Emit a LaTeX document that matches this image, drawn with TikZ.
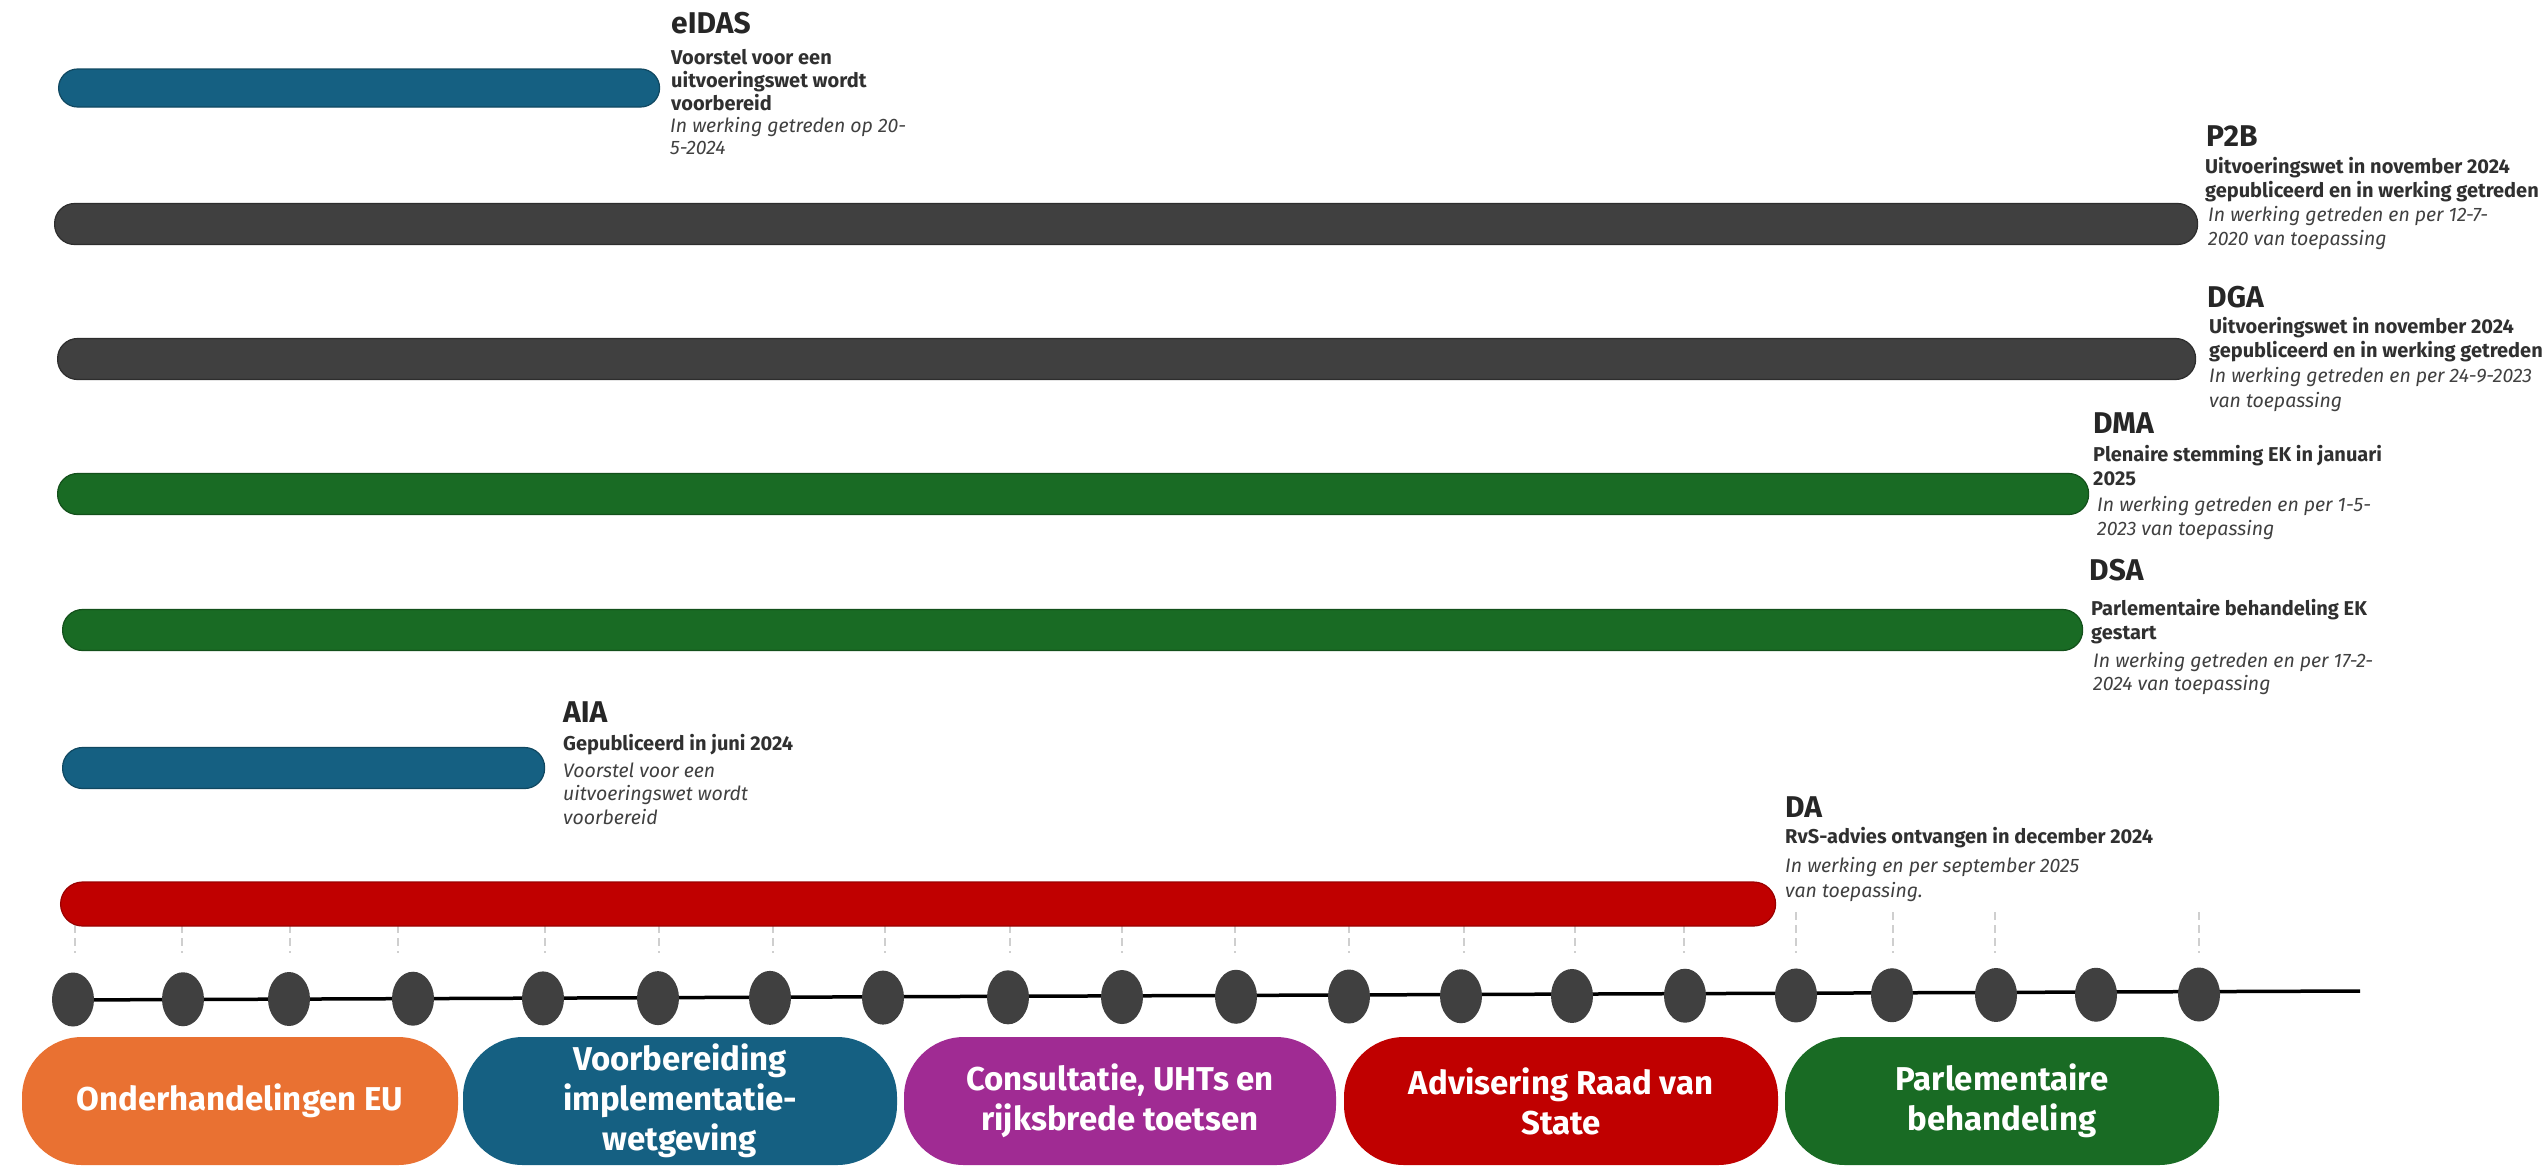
\documentclass[tikz,border=0pt]{standalone}
\usepackage{fontspec}
\setmainfont{Fira Sans}
\usetikzlibrary{shapes.geometric}
\definecolor{cOrange}{HTML}{E97132}
\definecolor{cBlue}{HTML}{156082}
\definecolor{cPurple}{HTML}{A02B93}
\definecolor{cRed}{HTML}{C00000}
\definecolor{cGreen}{HTML}{196B24}
\definecolor{cGray}{HTML}{404040}
\definecolor{cTitle}{HTML}{262626}
\definecolor{cSub}{HTML}{303030}
\definecolor{cItal}{HTML}{404040}
\definecolor{cTick}{HTML}{CFCFCF}
\begin{document}
\begin{tikzpicture}[x=1pt,y=-1pt,
  barbox/.style={anchor=west, inner sep=0pt, minimum height=41pt, rounded corners=20pt, line width=1.2pt},
  ttl/.style={anchor=base west, inner sep=0pt, text=cTitle, font=\fontsize{30}{30}\selectfont\bfseries},
  subl/.style={anchor=base west, inner sep=0pt, text=cSub, font=\fontsize{20}{24}\selectfont\bfseries},
  itl/.style={anchor=base west, inner sep=0pt, text=cItal, font=\fontsize{19.5}{24}\selectfont\itshape},
  pill/.style={inner sep=0pt, minimum height=128pt, rounded corners=60pt, align=center, text=white,
    font=\fontsize{33}{40}\selectfont\bfseries},
  dotnode/.style={ellipse, fill=cGray, inner sep=0pt, minimum width=42pt, minimum height=54pt},
  tickline/.style={draw=cTick, line width=1.2pt, dash pattern=on 8pt off 5pt},
  axisline/.style={draw=black, line width=3.5pt}
]
\useasboundingbox (0,0) rectangle (2548,1168);

% dashed ticks
\foreach \x [count=\i] in {75,182,290,398,545,659,773,885,1010,1122,1235,1349,1464,1575,1684,1796,1893,1995,2199}
  \draw[tickline] (\x,912) coordinate (tka\i) -- (\x,953) coordinate (tkb\i);

% bars
\node[barbox, fill=cBlue, draw=cBlue!75!black, minimum width=601pt, minimum height=38pt, rounded corners=19pt] (eidasbar) at (58,88) {};
\node[barbox, fill=cGray, draw=cGray!70!black, minimum width=2143pt] (p2bbar) at (54,224) {};
\node[barbox, fill=cGray, draw=cGray!70!black, minimum width=2138pt] (dgabar) at (57,359) {};
\node[barbox, fill=cGreen, draw=cGreen!75!black, minimum width=2031pt] (dmabar) at (57,494) {};
\node[barbox, fill=cGreen, draw=cGreen!75!black, minimum width=2020pt] (dsabar) at (62,630) {};
\node[barbox, fill=cBlue, draw=cBlue!75!black, minimum width=482pt] (aiabar) at (62,768) {};
\node[barbox, fill=cRed, draw=cRed!80!black, minimum width=1715pt, minimum height=44pt, rounded corners=22pt] (dabar) at (60,904) {};

% timeline
\coordinate (tlstart) at (62,1000);
\coordinate (tlend) at (2360,991);
\draw[axisline] (tlstart) -- (tlend);
\foreach \x [count=\i] in {73,183,289,413,543,658,770,883,1008,1122,1236,1349,1461,1572,1685,1796,1892,1996,2096,2199}
  \node[dotnode] (dot\i) at (\x,{999.5-5*(\x-73)/2126}) {};

% phases
\node[pill, fill=cOrange, minimum width=436pt] (ph1) at (240,1101) {Onderhandelingen EU};
\node[pill, fill=cBlue, minimum width=434pt] (ph2) at (680,1101) {Voorbereiding\\implementatie-\\wetgeving};
\node[pill, fill=cPurple, minimum width=432pt] (ph3) at (1120,1101) {Consultatie, UHTs en\\rijksbrede toetsen};
\node[pill, fill=cRed, minimum width=434pt] (ph4) at (1561,1101) {Advisering Raad van\\State};
\node[pill, fill=cGreen, minimum width=434pt] (ph5) at (2002,1101) {Parlementaire\\behandeling};

% eIDAS
\node[ttl] (eidast) at (671,33) {eIDAS};
\node[subl] (eidass1) at (671,64) {Voorstel voor een};
\node[subl] (eidass2) at (671,87) {uitvoeringswet wordt};
\node[subl] (eidass3) at (671,110) {voorbereid};
\node[itl] (eidasi1) at (670,132) {In werking getreden op 20-};
\node[itl] (eidasi2) at (670,154) {5-2024};

% P2B
\node[ttl] (p2bt) at (2206,146) {P2B};
\node[subl] (p2bs1) at (2205,173) {Uitvoeringswet in november 2024};
\node[subl] (p2bs2) at (2205,197) {gepubliceerd en in werking getreden};
\node[itl] (p2bi1) at (2208,221) {In werking getreden en per 12-7-};
\node[itl] (p2bi2) at (2208,245) {2020 van toepassing};

% DGA
\node[ttl] (dgat) at (2207,307) {DGA};
\node[subl] (dgas1) at (2209,333) {Uitvoeringswet in november 2024};
\node[subl] (dgas2) at (2209,357) {gepubliceerd en in werking getreden};
\node[itl] (dgai1) at (2209,382) {In werking getreden en per 24-9-2023};
\node[itl] (dgai2) at (2209,407) {van toepassing};

% DMA
\node[ttl] (dmat) at (2093,433) {DMA};
\node[subl] (dmas1) at (2093,461) {Plenaire stemming EK in januari};
\node[subl] (dmas2) at (2093,485) {2025};
\node[itl] (dmai1) at (2097,511) {In werking getreden en per 1-5-};
\node[itl] (dmai2) at (2097,535) {2023 van toepassing};

% DSA
\node[ttl] (dsat) at (2089,580) {DSA};
\node[subl] (dsas1) at (2091,615) {Parlementaire behandeling EK};
\node[subl] (dsas2) at (2091,639) {gestart};
\node[itl] (dsai1) at (2093,667) {In werking getreden en per 17-2-};
\node[itl] (dsai2) at (2093,690) {2024 van toepassing};

% AIA
\node[ttl] (aiat) at (563,722) {AIA};
\node[subl] (aias1) at (563,750) {Gepubliceerd in juni 2024};
\node[itl] (aiai1) at (563,777) {Voorstel voor een};
\node[itl] (aiai2) at (563,800) {uitvoeringswet wordt};
\node[itl] (aiai3) at (563,824) {voorbereid};

% DA
\node[ttl] (dat) at (1785,817) {DA};
\node[subl] (das1) at (1785,843) {RvS-advies ontvangen in december 2024};
\node[itl] (dai1) at (1785,872) {In werking en per september 2025};
\node[itl] (dai2) at (1785,897) {van toepassing.};
\end{tikzpicture}
\end{document}
